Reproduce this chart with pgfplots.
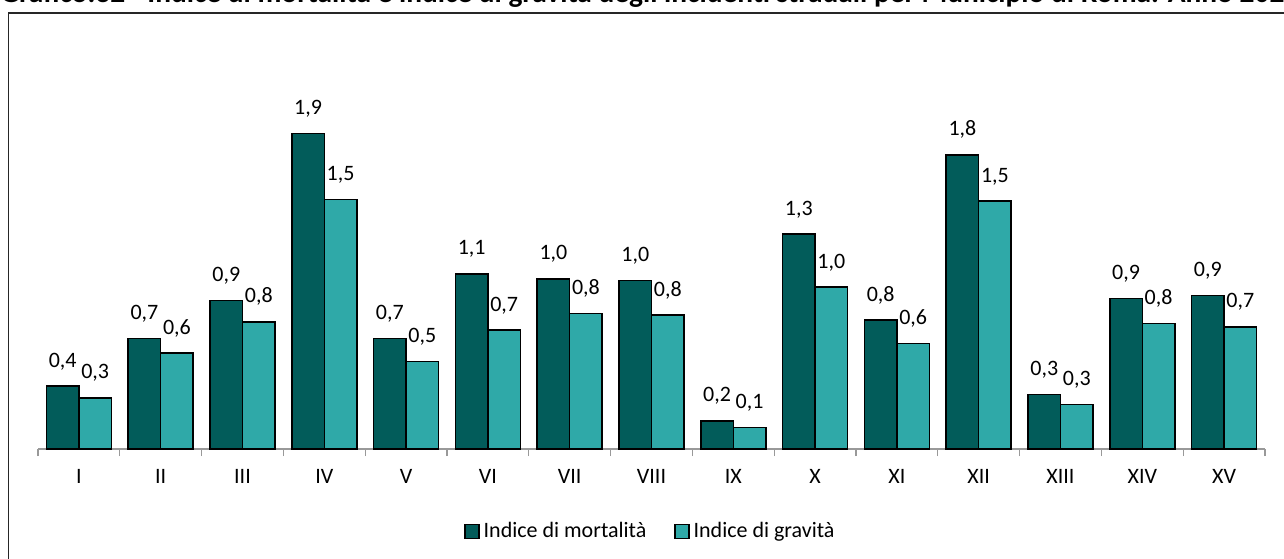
\documentclass[border=0pt]{standalone}
\usepackage{pgfplots}
\pgfplotsset{compat=1.18}
\usepackage{fontspec}
\setmainfont{Carlito}
\definecolor{darkteal}{HTML}{025C5A}
\definecolor{lightteal}{HTML}{2FA9A8}
\begin{document}
\begin{tikzpicture}
\useasboundingbox (0,0) rectangle (642pt,279pt);
\clip (0,0) rectangle (642pt,279pt);
% title (cut by the top edge)
\node[anchor=base west, inner sep=0pt, font=\bfseries\fontsize{14.7}{17}\selectfont] at (0pt,277.8pt) {Grafico.32 - Indice di mortalità e indice di gravità degli incidenti stradali per Municipio di Roma. Anno 2023};
% outer frame
\draw[line width=0.8pt, black!85] (4.25pt,-20pt) -- (4.25pt,272.5pt) -- (700pt,272.5pt);
\begin{axis}[
  at={(19pt,54.5pt)}, anchor=south west,
  scale only axis, width=613.5pt, height=206.5pt,
  xmin=0.5, xmax=15.5, ymin=0, ymax=2.5,
  enlarge x limits=false,
  axis x line*=bottom, axis y line=none,
  x axis line style={draw=black!40, line width=0.6pt},
  xtick={1,...,15},
  xticklabels={I,II,III,IV,V,VI,VII,VIII,IX,X,XI,XII,XIII,XIV,XV},
  major tick length=0pt,
  minor xtick={0.5,1.5,...,15.5},
  minor tick length=3.5pt,
  minor tick style={draw=black!40, line width=0.6pt},
  tick align=outside,
  xticklabel style={font=\fontsize{11}{13}\selectfont, yshift=-6.5pt},
  ybar=0pt, bar width=16.25pt,
  clip=false,
  nodes near coords,
  every node near coord/.append style={font=\fontsize{11}{13}\selectfont, anchor=base, inner sep=0pt, yshift=9.5pt},
  /pgf/number format/.cd, fixed, fixed zerofill, precision=1, use comma, assume math mode=true,
  /pgfplots/.cd,
  legend columns=2,
  legend style={at={(rel axis cs:0.500,-0.2)}, anchor=center, draw=none, fill=none,
    font=\fontsize{11}{13}\selectfont,
    /tikz/every even column/.append style={column sep=12pt}},
  legend image code/.code={\draw[#1, line width=0.6pt] (0pt,-3.4pt) rectangle (7pt,3.6pt);},
]
\addplot[fill=darkteal, draw=black, line width=0.75pt] coordinates {
(1,0.38) (2,0.67) (3,0.90) (4,1.91) (5,0.67) (6,1.06) (7,1.03) (8,1.02)
(9,0.17) (10,1.30) (11,0.78) (12,1.78) (13,0.33) (14,0.91) (15,0.93)};
\addplot[fill=lightteal, draw=black, line width=0.75pt] coordinates {
(1,0.31) (2,0.58) (3,0.77) (4,1.51) (5,0.53) (6,0.72) (7,0.82) (8,0.81)
(9,0.13) (10,0.98) (11,0.64) (12,1.50) (13,0.27) (14,0.76) (15,0.74)};
\legend{Indice di mortalità, Indice di gravità}
\end{axis}
\end{tikzpicture}
\end{document}
